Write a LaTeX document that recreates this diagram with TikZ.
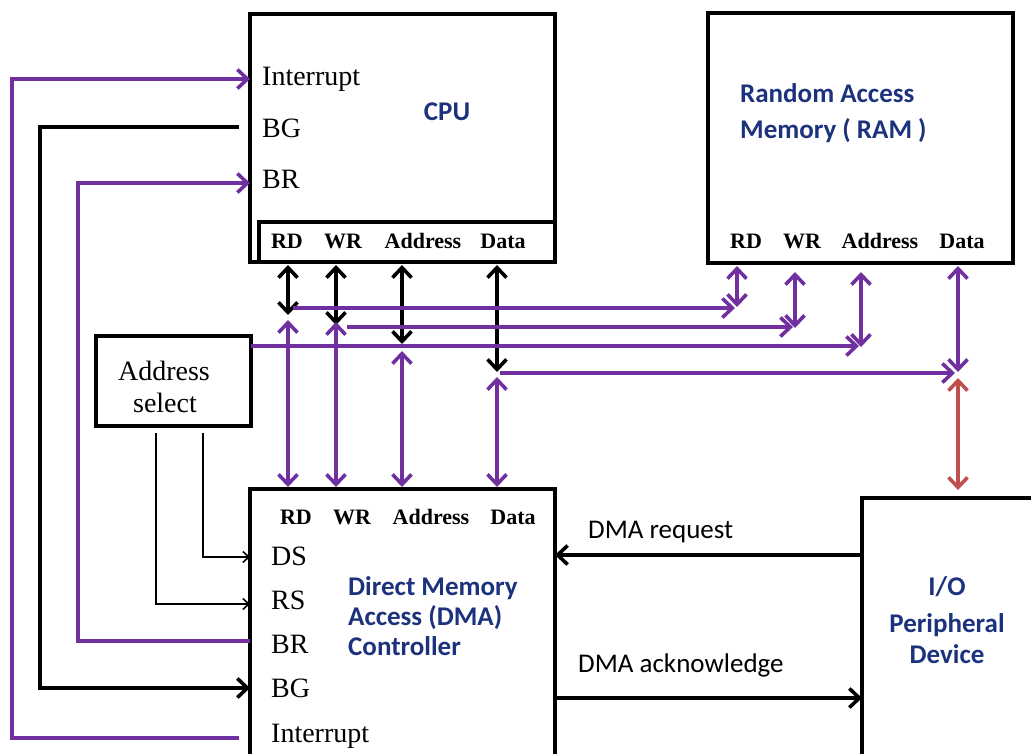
\documentclass[tikz,border=0pt]{standalone}
\usepackage{fontspec}
\setmainfont{Liberation Serif}
\newfontfamily\calfont{Carlito}
\usetikzlibrary{arrows.meta}
\definecolor{pur}{RGB}{112,48,160}
\definecolor{redb}{RGB}{192,80,77}
\definecolor{bluc}{RGB}{28,50,125}
\tikzset{
  bgtip/.tip={Straight Barb[length=10pt,width=19pt]},
  smtip/.tip={Straight Barb[length=6pt,width=11pt]}
}
\begin{document}
\begin{tikzpicture}[x=1pt,y=-1pt,
 box/.style={draw,line width=3.4pt,inner sep=0pt,outer sep=0pt,anchor=north west},
 pbus/.style={draw=pur,line width=3.6pt},
 kbus/.style={draw=black,line width=3.6pt},
 rbus/.style={draw=redb,line width=3.6pt},
 thinl/.style={draw=black,line width=1.6pt},
 ser/.style={font=\fontsize{28}{32}\selectfont,inner sep=0pt,anchor=base west},
 barl/.style={font=\bfseries\fontsize{22}{26}\selectfont,inner sep=0pt,anchor=base},
 blu/.style={font=\calfont\bfseries\fontsize{27}{30}\selectfont,text=bluc,inner sep=0pt,anchor=base west},
 cal/.style={font=\calfont\fontsize{27}{30}\selectfont,inner sep=0pt,anchor=base west}
]
\clip (0,0) rectangle (1031,753);
% boxes
\node[box,minimum width=305pt,minimum height=248pt] (cpu) at (250,14) {};
\node[box,anchor=south east,minimum width=296pt,minimum height=40pt] (cpubar) at (cpu.south east) {};
\node[box,minimum width=305pt,minimum height=250pt] (ram) at (708,13) {};
\node[box,minimum width=155pt,minimum height=90pt] (asel) at (96,336) {};
\node[box,minimum width=305pt,minimum height=300pt] (dma) at (250,489) {};
\node[box,minimum width=200pt,minimum height=300pt] (io) at (862,498) {};
% CPU texts
\node[ser] (cint) at (262,85) {Interrupt};
\node[ser] (cbg) at (262,137) {BG};
\node[ser] (cbr) at (262,188) {BR};
\node[blu,anchor=base] (cpul) at (447,120) {CPU};
\node[barl] (crd) at (287,248) {RD};
\node[barl] (cwr) at (343,248) {WR};
\node[barl] (cad) at (423,248) {Address};
\node[barl] (cda) at (503,248) {Data};
% RAM texts
\node[blu] (ram1) at (740,102) {Random Access};
\node[blu] (ram2) at (740,138) {Memory ( RAM )};
\node[barl] (rrd) at (746,248) {RD};
\node[barl] (rwr) at (802,248) {WR};
\node[barl] (rad) at (880,248) {Address};
\node[barl] (rda) at (962,248) {Data};
% Address select
\node[ser,anchor=base] (as1) at (164,380) {Address};
\node[ser,anchor=base] (as2) at (165,412) {select};
% DMA texts
\node[barl] (drd) at (296,524) {RD};
\node[barl] (dwr) at (352,524) {WR};
\node[barl] (dad) at (431,524) {Address};
\node[barl] (dda) at (513,524) {Data};
\node[ser] (dds) at (271,565) {DS};
\node[ser] (drs) at (271,609) {RS};
\node[ser] (dbr) at (271,653) {BR};
\node[ser] (dbg) at (271,697) {BG};
\node[ser] (dint) at (271,742) {Interrupt};
\node[blu] (dm1) at (348,595) {Direct Memory};
\node[blu] (dm2) at (348,625) {Access (DMA)};
\node[blu] (dm3) at (348,655) {Controller};
% IO texts
\node[blu,anchor=base] (io1) at (947,595) {I/O};
\node[blu,anchor=base] (io2) at (947,632) {Peripheral};
\node[blu,anchor=base] (io3) at (947,663) {Device};
\node[cal] (req) at (588,538) {DMA request};
\node[cal] (ack) at (578,672) {DMA acknowledge};
% coordinates of the buses
\coordinate (kRDa) at (288,265); \coordinate (kRDb) at (288,315);
\coordinate (kWRa) at (336,265); \coordinate (kWRb) at (336,325);
\coordinate (kADa) at (402,265); \coordinate (kADb) at (402,344);
\coordinate (kDAa) at (497,265); \coordinate (kDAb) at (497,372);
\coordinate (pRDa) at (288,320); \coordinate (pRDb) at (288,487);
\coordinate (pWRa) at (336,322); \coordinate (pWRb) at (336,487);
\coordinate (pADa) at (402,351); \coordinate (pADb) at (402,487);
\coordinate (pDAa) at (497,377); \coordinate (pDAb) at (497,487);
\coordinate (hRDa) at (293,308); \coordinate (hRDb) at (735,308);
\coordinate (hWRa) at (347,327); \coordinate (hWRb) at (793,327);
\coordinate (hADa) at (asel.east |- 0,346); \coordinate (hADb) at (859,346);
\coordinate (hDAa) at (500,373); \coordinate (hDAb) at (955,373);
\coordinate (mRDa) at (737,266); \coordinate (mRDb) at (737,307);
\coordinate (mWRa) at (795,272); \coordinate (mWRb) at (795,328);
\coordinate (mADa) at (861,272); \coordinate (mADb) at (861,347);
\coordinate (mDAa) at (958,266); \coordinate (mDAb) at (958,372);
\coordinate (rIOa) at (958,378); \coordinate (rIOb) at (958,490);
% black CPU bus arrows
\draw[kbus,bgtip-bgtip] (kRDa) -- (kRDb);
\draw[kbus,bgtip-bgtip] (kWRa) -- (kWRb);
\draw[kbus,bgtip-bgtip] (kADa) -- (kADb);
\draw[kbus,bgtip-bgtip] (kDAa) -- (kDAb);
% purple DMA bus arrows
\draw[pbus,bgtip-bgtip] (pRDa) -- (pRDb);
\draw[pbus,bgtip-bgtip] (pWRa) -- (pWRb);
\draw[pbus,bgtip-bgtip] (pADa) -- (pADb);
\draw[pbus,bgtip-bgtip] (pDAa) -- (pDAb);
% horizontal buses to RAM
\draw[pbus,-bgtip] (hRDa) -- (hRDb);
\draw[pbus,-bgtip] (hWRa) -- (hWRb);
\draw[pbus,-bgtip] (hADa) -- (hADb);
\draw[pbus,-bgtip] (hDAa) -- (hDAb);
% RAM bus arrows
\draw[pbus,bgtip-bgtip] (mRDa) -- (mRDb);
\draw[pbus,bgtip-bgtip] (mWRa) -- (mWRb);
\draw[pbus,bgtip-bgtip] (mADa) -- (mADb);
\draw[pbus,bgtip-bgtip] (mDAa) -- (mDAb);
\draw[rbus,bgtip-bgtip] (rIOa) -- (rIOb);
% control lines
\coordinate (intS) at (239,738);
\coordinate (intE) at (cpu.west |- 0,79);
\draw[pbus,-bgtip] (intS) -- (12,738) -- (12,79) -- (intE);
\coordinate (bgS) at (239,127);
\coordinate (bgE) at (dma.west |- 0,688);
\draw[kbus,-bgtip] (bgS) -- (40,127) -- (40,688) -- (bgE);
\coordinate (brS) at (dma.west |- 0,641);
\coordinate (brE) at (cpu.west |- 0,183);
\draw[pbus,-bgtip] (brS) -- (78,641) -- (78,183) -- (brE);
\coordinate (dsS) at (203,433);
\coordinate (dsE) at (dma.west |- 0,557);
\draw[thinl,-smtip] (dsS) -- (203,557) -- (dsE);
\coordinate (rsS) at (156,433);
\coordinate (rsE) at (dma.west |- 0,604);
\draw[thinl,-smtip] (rsS) -- (156,604) -- (rsE);
% DMA request / acknowledge
\draw[kbus,-bgtip] (io.west |- 0,555) -- (dma.east |- 0,555);
\draw[kbus,-bgtip] (dma.east |- 0,698) -- (io.west |- 0,698);
\end{tikzpicture}
\end{document}
